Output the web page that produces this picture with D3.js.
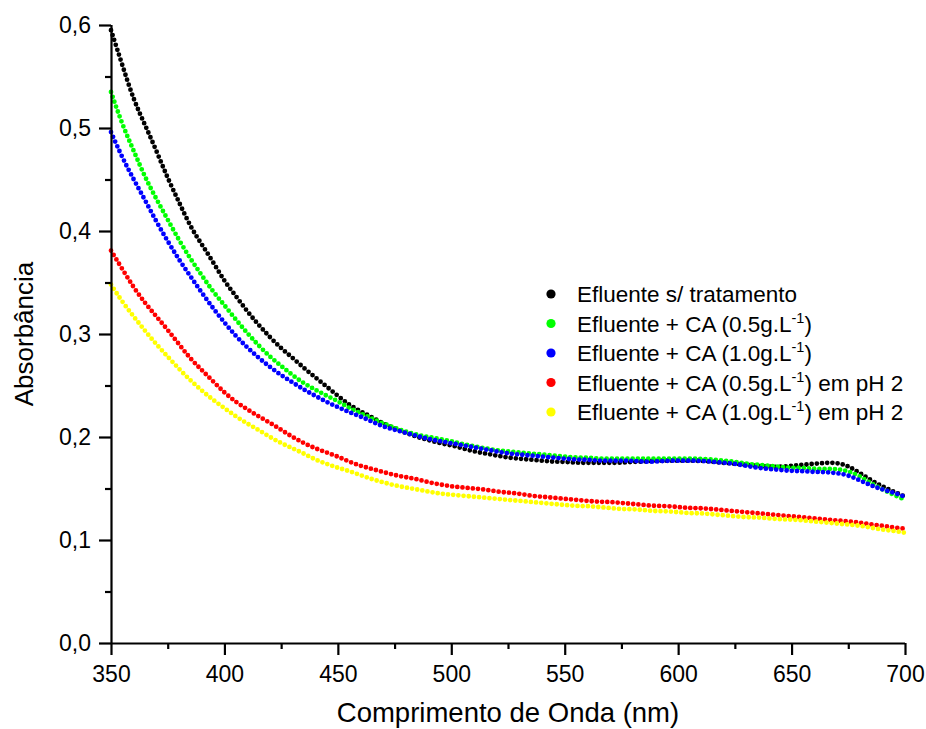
<!DOCTYPE html>
<html>
<head>
<meta charset="utf-8">
<script src="https://cdn.jsdelivr.net/npm/d3@7"></script>
<style>
  html, body { margin: 0; padding: 0; background: #fff; }
  svg { display: block; font-family: "Liberation Sans", Arial, sans-serif; }
</style>
</head>
<body>
<svg id="chart" width="926" height="729"></svg>
<script>
// wavelengths (nm), every 5 nm from 350 to 700
const wavelengths = d3.range(350, 701, 5);

const seriesNames = [
  "Efluente s/ tratamento",
  "Efluente + CA (0.5g.L^-1)",
  "Efluente + CA (1.0g.L^-1)",
  "Efluente + CA (0.5g.L^-1) em pH 2",
  "Efluente + CA (1.0g.L^-1) em pH 2"
];
const seriesColors = ["#000000", "#00ff00", "#0000ff", "#ff0000", "#ffff00"];

const semTratamento = [
  0.595, 0.561, 0.527, 0.503, 0.478, 0.451, 0.428, 0.404, 0.387, 0.370,
  0.351, 0.337, 0.322, 0.309, 0.297, 0.286, 0.277, 0.267, 0.258, 0.249,
  0.240, 0.231, 0.225, 0.219, 0.213, 0.208, 0.204, 0.200, 0.197, 0.194,
  0.192, 0.189, 0.186, 0.184, 0.182, 0.180, 0.179, 0.178, 0.177, 0.176,
  0.176, 0.175, 0.175, 0.175, 0.175, 0.175, 0.176, 0.176, 0.177, 0.177,
  0.177, 0.177, 0.177, 0.176, 0.175, 0.174, 0.173, 0.172, 0.171, 0.171,
  0.172, 0.173, 0.174, 0.175, 0.175, 0.172, 0.165, 0.158, 0.152, 0.147,
  0.142
];
const ca05 = [
  0.535, 0.503, 0.478, 0.452, 0.431, 0.411, 0.391, 0.373, 0.357, 0.341,
  0.328, 0.314, 0.301, 0.289, 0.278, 0.269, 0.260, 0.252, 0.246, 0.240,
  0.235, 0.228, 0.223, 0.218, 0.213, 0.209, 0.205, 0.202, 0.200, 0.198,
  0.196, 0.193, 0.191, 0.189, 0.187, 0.186, 0.185, 0.184, 0.183, 0.182,
  0.181, 0.180, 0.180, 0.179, 0.179, 0.179, 0.179, 0.179, 0.179, 0.179,
  0.179, 0.179, 0.179, 0.178, 0.177, 0.176, 0.174, 0.173, 0.172, 0.171,
  0.170, 0.170, 0.169, 0.169, 0.169, 0.167, 0.162, 0.155, 0.149, 0.144,
  0.139
];
const ca10 = [
  0.496, 0.471, 0.450, 0.430, 0.409, 0.390, 0.372, 0.356, 0.340, 0.325,
  0.311, 0.298, 0.287, 0.277, 0.268, 0.260, 0.253, 0.246, 0.240, 0.234,
  0.229, 0.224, 0.220, 0.215, 0.210, 0.207, 0.204, 0.201, 0.198, 0.196,
  0.194, 0.192, 0.190, 0.188, 0.186, 0.184, 0.183, 0.182, 0.181, 0.180,
  0.179, 0.178, 0.178, 0.177, 0.177, 0.177, 0.177, 0.176, 0.176, 0.177,
  0.177, 0.177, 0.177, 0.176, 0.175, 0.174, 0.172, 0.170, 0.169, 0.168,
  0.167, 0.167, 0.166, 0.166, 0.165, 0.163, 0.158, 0.153, 0.149, 0.146,
  0.142
];
const ca05pH2 = [
  0.381, 0.363, 0.345, 0.330, 0.317, 0.304, 0.290, 0.276, 0.265, 0.254,
  0.243, 0.234, 0.227, 0.220, 0.214, 0.207, 0.200, 0.194, 0.189, 0.185,
  0.181, 0.176, 0.172, 0.169, 0.166, 0.163, 0.161, 0.159, 0.156, 0.154,
  0.152, 0.151, 0.150, 0.149, 0.147, 0.146, 0.145, 0.143, 0.142, 0.141,
  0.140, 0.139, 0.138, 0.137, 0.137, 0.136, 0.135, 0.134, 0.133, 0.133,
  0.132, 0.131, 0.131, 0.130, 0.129, 0.128, 0.127, 0.126, 0.125, 0.124,
  0.123, 0.122, 0.121, 0.120, 0.119, 0.118, 0.117, 0.115, 0.114, 0.112,
  0.111
];
const ca10pH2 = [
  0.348, 0.331, 0.317, 0.303, 0.290, 0.278, 0.266, 0.255, 0.245, 0.236,
  0.228, 0.220, 0.213, 0.207, 0.200, 0.194, 0.189, 0.184, 0.178, 0.174,
  0.170, 0.167, 0.163, 0.159, 0.156, 0.153, 0.151, 0.149, 0.147, 0.145,
  0.144, 0.143, 0.142, 0.141, 0.140, 0.139, 0.138, 0.137, 0.136, 0.135,
  0.134, 0.133, 0.133, 0.132, 0.131, 0.130, 0.130, 0.129, 0.128, 0.128,
  0.127, 0.126, 0.126, 0.125, 0.124, 0.123, 0.122, 0.122, 0.121, 0.120,
  0.120, 0.119, 0.118, 0.117, 0.116, 0.115, 0.114, 0.112, 0.110, 0.109,
  0.107
];
const seriesValues = [semTratamento, ca05, ca10, ca05pH2, ca10pH2];

const xTicks = [350, 400, 450, 500, 550, 600, 650, 700];
const xMinorTicks = [375, 425, 475, 525, 575, 625, 675];
const yTicks = [0.0, 0.1, 0.2, 0.3, 0.4, 0.5, 0.6];
const yMinorTicks = [0.05, 0.15, 0.25, 0.35, 0.45, 0.55];

const svg = d3.select("#chart");
const m = { left: 111, right: 905, top: 25, bottom: 643 };

const x = d3.scaleLinear().domain([350, 700]).range([m.left, m.right]);
const y = d3.scaleLinear().domain([0, 0.6]).range([m.bottom, m.top]);

// Curves
const line = d3.line()
  .x(d => x(d[0]))
  .y(d => y(d[1]))
  .curve(d3.curveBasis);

seriesValues.forEach((vals, i) => {
  const pts = wavelengths.map((w, j) => [w, vals[j]]);
  svg.append("path")
    .attr("d", line(pts))
    .attr("fill", "none")
    .attr("stroke", seriesColors[i])
    .attr("stroke-width", 4.8)
    .attr("stroke-linecap", "round")
    .attr("stroke-dasharray", "0,5.2");
});

// Axes
const fmtY = d => d3.format(".1f")(d).replace(".", ",");

const xAxis = svg.append("g").attr("transform", `translate(0,${m.bottom})`)
  .call(d3.axisBottom(x).tickValues(xTicks).tickSize(12).tickPadding(10).tickFormat(d3.format("d")));
const xMinor = svg.append("g").attr("transform", `translate(0,${m.bottom})`)
  .call(d3.axisBottom(x).tickValues(xMinorTicks).tickSize(6).tickFormat(""));

const yAxis = svg.append("g").attr("transform", `translate(${m.left},0)`)
  .call(d3.axisLeft(y).tickValues(yTicks).tickSize(12).tickPadding(8).tickFormat(fmtY));
const yMinor = svg.append("g").attr("transform", `translate(${m.left},0)`)
  .call(d3.axisLeft(y).tickValues(yMinorTicks).tickSize(6).tickFormat(""));

[xAxis, xMinor, yAxis, yMinor].forEach(g => {
  g.selectAll(".domain").attr("stroke", "#000").attr("stroke-width", 2.2);
  g.selectAll(".tick line").attr("stroke", "#000").attr("stroke-width", 2.2);
  g.selectAll(".tick text").attr("fill", "#000").style("font-size", "23px")
    .style("font-family", "'Liberation Sans', Arial, sans-serif");
});
xMinor.select(".domain").remove();
yMinor.select(".domain").remove();
xAxis.select(".domain").attr("d", `M${m.left},0.5H${m.right}`);
yAxis.select(".domain").attr("d", `M0.5,${m.bottom}V${m.top}`);
xAxis.selectAll(".tick text").attr("dy", "0.72em");

// Axis titles
svg.append("text")
  .attr("x", (m.left + m.right) / 2)
  .attr("y", 722)
  .attr("text-anchor", "middle")
  .style("font-size", "27.5px")
  .text("Comprimento de Onda (nm)");

svg.append("text")
  .attr("transform", `translate(33,${(m.top + m.bottom) / 2}) rotate(-90)`)
  .attr("text-anchor", "middle")
  .style("font-size", "26px")
  .text("Absorbância");

// Legend
const legend = svg.append("g");
seriesNames.forEach((name, i) => {
  const cy = 294 + i * 29.5;
  legend.append("circle")
    .attr("cx", 551).attr("cy", cy).attr("r", 4.6)
    .attr("fill", seriesColors[i]);
  const t = legend.append("text")
    .attr("x", 577).attr("y", cy + 8)
    .style("font-size", "22.5px");
  const parts = name.split("^-1");
  if (parts.length === 1) {
    t.text(name);
  } else {
    t.append("tspan").text(parts[0]);
    t.append("tspan").attr("dy", -9).style("font-size", "14.5px").text("-1");
    t.append("tspan").attr("dy", 9).text(parts[1]);
  }
});
</script>
</body>
</html>
